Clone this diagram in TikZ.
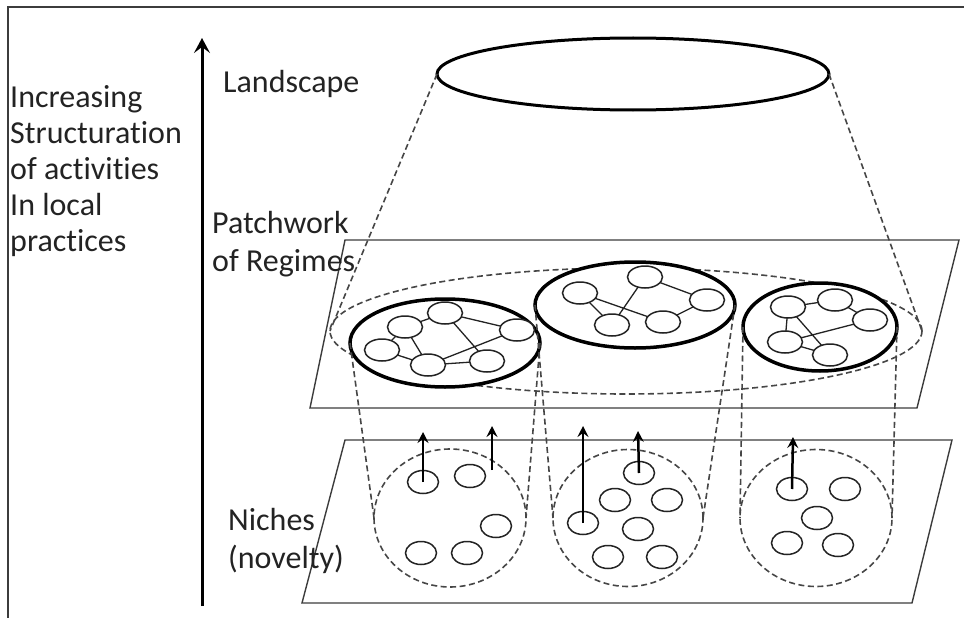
\documentclass[tikz,border=0pt]{standalone}
\usepackage{fontspec}
\setmainfont{Carlito}[Ligatures={NoCommon}]
\usepackage{tikz}
\usetikzlibrary{shapes.geometric, arrows.meta, positioning, calc}
\definecolor{inkgray}{RGB}{35,35,35}
\definecolor{linegray}{RGB}{60,60,60}
\definecolor{dashgray}{RGB}{70,70,70}
\tikzset{
  lbl/.style={font=\fontsize{32}{36}\selectfont,text=inkgray,align=left,inner sep=0pt},
  lblwide/.style={lbl,font=\fontsize{32}{38}\selectfont},
  planeline/.style={draw=linegray,line width=1.4pt},
  dashline/.style={draw=dashgray,line width=1.6pt,dash pattern=on 6pt off 3.5pt},
  landnode/.style={ellipse,draw=black,line width=3pt,inner sep=0pt,outer sep=0pt},
  allnode/.style={ellipse,dashline,inner sep=0pt,outer sep=0pt},
  regnode/.style={ellipse,draw=black,line width=3.5pt,fill=white,inner sep=0pt,outer sep=0pt},
  actnode/.style={ellipse,draw=inkgray,line width=1.5pt,fill=white,minimum width=35pt,minimum height=22pt,inner sep=0pt,outer sep=0pt},
  nichenode/.style={ellipse,dashline,inner sep=0pt,outer sep=0pt},
  novnode/.style={ellipse,draw=inkgray,line width=1.5pt,minimum width=31pt,minimum height=23pt,inner sep=0pt,outer sep=0pt},
  linkline/.style={draw=inkgray,line width=1.3pt},
  uparr/.style={-{Stealth[length=11pt,width=11pt,inset=4pt]},line width=2.5pt,color=black},
  axisarr/.style={-{Stealth[length=15pt,width=16pt,inset=6pt]},line width=3pt,color=black}
}

\begin{document}
\begin{tikzpicture}[x=1pt,y=-1pt]
  \useasboundingbox (0,0) rectangle (964,618);
  % frame and planes
  \draw[planeline] (8,618) -- (8,7) -- (964,7);
  \draw[planeline] (345,240) -- (959,240) -- (917,408) -- (310,408) -- cycle;
  \draw[planeline] (345,440) -- (952,440) -- (912,603) -- (302,603) -- cycle;

  % landscape over the patchwork
  \node[allnode,minimum width=592pt,minimum height=126pt] (regall) at (626,331) {};
  \node[landnode,minimum width=392pt,minimum height=72pt] (land) at (633,74) {};
  \draw[dashline] (land.west) -- (regall.west);
  \draw[dashline] (land.east) -- (regall.east);

  % niches
  \node[nichenode,minimum width=152pt,minimum height=138pt] (nicheA) at (450,518) {};
  \node[nichenode,minimum width=150pt,minimum height=137pt] (nicheB) at (628,518) {};
  \node[nichenode,minimum width=152pt,minimum height=137pt] (nicheC) at (816,518) {};

  % regimes
  \node[regnode,minimum width=190pt,minimum height=88pt] (regA) at (445,343) {};
  \node[regnode,minimum width=200pt,minimum height=86pt] (regB) at (635,305) {};
  \node[regnode,minimum width=154pt,minimum height=88pt] (regC) at (820,327) {};
  \draw[dashline] (regA.west) -- (nicheA.west); \draw[dashline] (regA.east) -- (nicheA.east);
  \draw[dashline] (regB.west) -- (nicheB.west); \draw[dashline] (regB.east) -- (nicheB.east);
  \draw[dashline] (regC.west) -- (nicheC.west); \draw[dashline] (regC.east) -- (nicheC.east);

  % actors in regime A
  \node[actnode] (a1) at (405,327) {};
  \node[actnode] (a2) at (445,313) {};
  \node[actnode] (a3) at (517,330) {};
  \node[actnode] (a4) at (382,350) {};
  \node[actnode] (a5) at (428,365) {};
  \node[actnode] (a6) at (487,361) {};
  \draw[linkline] (a1)--(a2) (a2)--(a3) (a2)--(a6) (a1)--(a4) (a1)--(a5) (a4)--(a5) (a5)--(a6) (a3)--(a5);
  % actors in regime B
  \node[actnode] (b1) at (580,293) {};
  \node[actnode] (b2) at (645,277) {};
  \node[actnode] (b3) at (707,300) {};
  \node[actnode] (b4) at (612,325) {};
  \node[actnode] (b5) at (663,322) {};
  \draw[linkline] (b1)--(b4) (b2)--(b4) (b2)--(b3) (b1)--(b5) (b3)--(b5);
  % actors in regime C
  \node[actnode] (c1) at (788,307) {};
  \node[actnode] (c2) at (835,300) {};
  \node[actnode] (c3) at (870,320) {};
  \node[actnode] (c4) at (785,342) {};
  \node[actnode] (c5) at (830,355) {};
  \draw[linkline] (c1)--(c2) (c2)--(c3) (c1)--(c4) (c1)--(c5) (c4)--(c3) (c4)--(c5);

  % novelties in the niches
  \node[novnode] (na1) at (423,482) {};
  \node[novnode] (na2) at (470,476) {};
  \node[novnode] (na3) at (496,526) {};
  \node[novnode] (na4) at (421,553) {};
  \node[novnode] (na5) at (467,553) {};
  \node[novnode] (nb1) at (639,473) {};
  \node[novnode] (nb2) at (615,500) {};
  \node[novnode] (nb3) at (667,500) {};
  \node[novnode] (nb4) at (583,523) {};
  \node[novnode] (nb5) at (638,529) {};
  \node[novnode] (nb6) at (608,557) {};
  \node[novnode] (nb7) at (662,557) {};
  \node[novnode] (nc1) at (792,489) {};
  \node[novnode] (nc2) at (845,489) {};
  \node[novnode] (nc3) at (817,518) {};
  \node[novnode] (nc4) at (787,543) {};
  \node[novnode] (nc5) at (838,545) {};

  \coordinate (upA1) at (423,432); \coordinate (lowA2) at (492,470); \coordinate (upA2) at (492,426);
  \coordinate (upB4) at (583,426); \coordinate (upB1) at (638,431); \coordinate (upC1) at (793,437);
  \draw[uparr] (na1.center) -- (upA1); \draw[uparr] (lowA2) -- (upA2);
  \draw[uparr] (nb4.center) -- (upB4); \draw[uparr] (nb1.center) -- (upB1);
  \draw[uparr] (nc1.center) -- (upC1);

  % axis and labels
  \coordinate (axbot) at (202,606); \coordinate (axtop) at (202,38);
  \draw[axisarr] (axbot) -- (axtop);
  \node[lbl,anchor=west] (axislbl) at (10,171) {Increasing\\Structuration\\of activities\\In local\\practices};
  \node[lbl,anchor=west] (landlbl) at (223,84) {Landscape};
  \node[lblwide,anchor=west] (patchlbl) at (212,244) {Patchwork\\of Regimes};
  \node[lblwide,anchor=west] (nichelbl) at (228,541) {Niches\\(novelty)};
\end{tikzpicture}
\end{document}
